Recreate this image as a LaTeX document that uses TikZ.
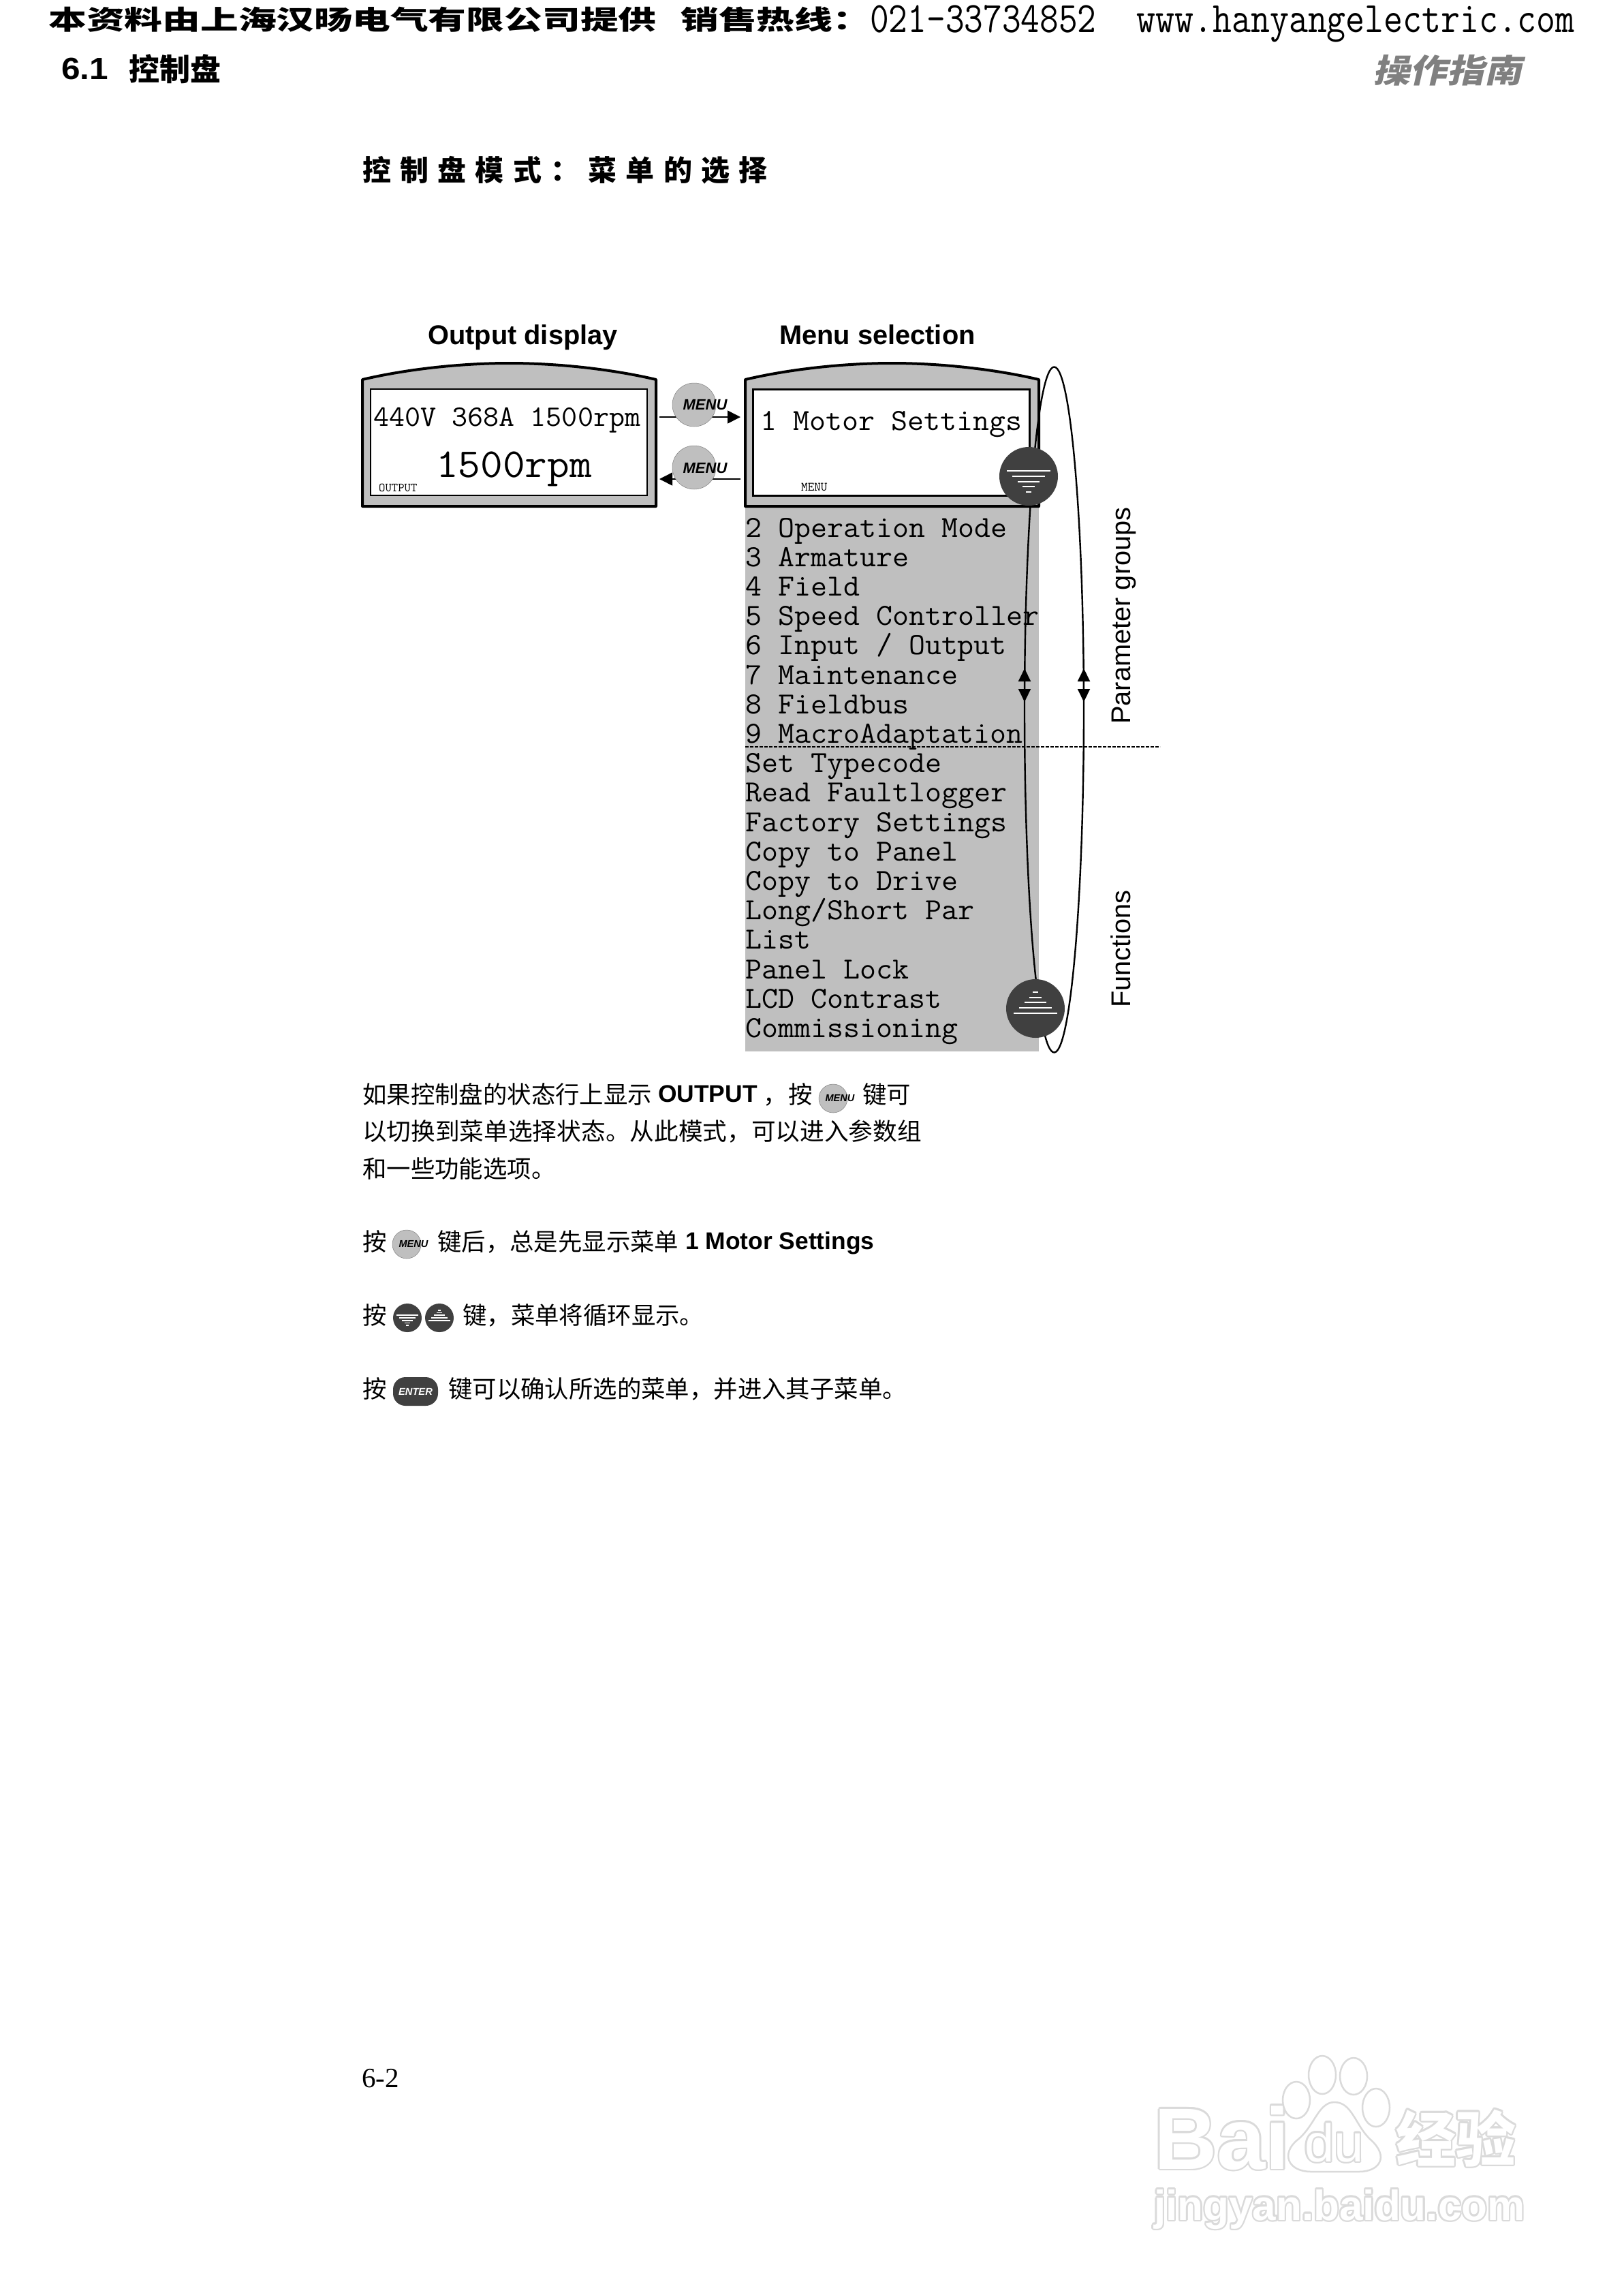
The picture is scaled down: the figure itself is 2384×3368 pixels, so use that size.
\documentclass[tikz,border=0pt]{standalone}
\usepackage{fontspec}
\setsansfont{Liberation Sans}
\setmainfont{Liberation Serif}
\setmonofont{Latin Modern Mono}
\newfontfamily\cjk{Noto Sans CJK SC}
\newfontfamily\cjkslant[FakeSlant=0.2]{Noto Sans CJK SC}
\newfontfamily\cjkspaced[LetterSpace=31.5]{Noto Sans CJK SC}
\usetikzlibrary{arrows.meta,shapes.geometric}
\newcommand{\fsz}[1]{\fontsize{#1}{#1}\selectfont}
\newcommand{\qcomma}{\char"FF0C\relax}
\newcommand{\qcolon}{\char"FF1A\relax}
\newcommand{\wmlabel}[3]{%
  \foreach \ang in {0,30,...,330}
    \node[wmtext,text=wmgray,shift={(\ang:2.4)}] at (#1) {#2#3};
  \node[wmtext,text=white] (wm#3) at (#1) {#2#3};}
\definecolor{panelgray}{HTML}{BFBFBF}
\definecolor{keydark}{HTML}{404040}
\definecolor{wmgray}{HTML}{DADADA}
\tikzset{
  txt/.style={anchor=base west,inner sep=0pt},
  wmtext/.style={anchor=base west,inner sep=0pt},
  cntxt/.style={txt,font=\cjk\fsz{35.4}},
  lattxt/.style={txt,font=\sffamily\bfseries\fsz{35.4}},
  itemtext/.style={txt,xscale=1.035,font=\ttfamily\fsz{45}},
  sidetext/.style={txt,rotate=90,font=\sffamily\fsz{39.8}},
  titletext/.style={txt,font=\sffamily\bfseries\fsz{39.8}},
  screen/.style={draw,fill=white,line width=2.5pt,inner sep=0pt,minimum width=406pt,minimum height=156pt},
  menukey/.style={circle,draw=gray,fill=panelgray,line width=.5pt,inner sep=0pt,minimum size=64pt},
  menusmall/.style={menukey,minimum size=42pt},
  keylabel/.style={inner sep=0pt,font=\sffamily\bfseries\itshape\fsz{22}},
  keysmall/.style={inner sep=0pt,font=\sffamily\bfseries\itshape\fsz{14.6}},
  darkkey/.style={circle,fill=keydark,inner sep=0pt,minimum size=86pt},
  darksmall/.style={darkkey,minimum size=42pt},
  enterkey/.style={rectangle,rounded corners=18pt,fill=keydark,text=white,inner sep=0pt,
    minimum width=66pt,minimum height=42pt,font=\sffamily\bfseries\itshape\fsz{14.7}},
  flow/.style={-{Triangle[length=19pt,width=19pt]},line width=1.6pt},
  cycletip/.style={{Triangle[length=19pt,width=18pt]}-{Triangle[length=19pt,width=18pt]},line width=2pt},
  pics/dispanel/.style={code={
    \draw[fill=panelgray,line width=4pt,line join=round] (0,24) .. controls (68,8) and (148,0) .. (215.5,0)
      .. controls (283,0) and (363,8) .. (431,24) -- (431,210) -- (0,210) -- cycle;
  }},
  pics/keylines/.style={code={
    \foreach \dy/\hw in {-8/32,0/24,8/16,15/9,23/4}
      \draw[white,line width=1.6pt] (-\hw,\dy) -- (\hw,\dy);
  }}
}
\begin{document}
\begin{tikzpicture}[x=1pt,y=-1pt]
\useasboundingbox (0,0) rectangle (2384,3368);
% page head
\node[txt,xscale=1.43,font=\cjk\bfseries\fsz{39}] (hdrsource) at (71,43) {本资料由上海汉旸电气有限公司提供};
\node[txt,xscale=1.43,font=\cjk\bfseries\fsz{39}] (hdrsale) at (999,43) {销售热线\qcolon};
\node[txt,xscale=1.015,yscale=1.2,font=\ttfamily\fsz{53}] (hdrtel) at (1277,47) {021-33734852};
\node[txt,xscale=1.025,yscale=1.2,font=\ttfamily\fsz{53}] (hdrweb) at (1668,47) {www.hanyangelectric.com};
\node[txt,xscale=1.1,font=\sffamily\bfseries\fsz{45}] (secnum) at (90,116) {6.1};
\node[txt,font=\cjk\bfseries\fsz{45}] (sectitle) at (189,118) {控制盘};
\node[txt,xscale=1.14,text=gray,font=\cjkslant\bfseries\fsz{48}] (chapter) at (2015,121) {操作指南};
\node[txt,font=\cjkspaced\bfseries\fsz{42}] (heading) at (532,265) {控制盘模式\qcolon 菜单的选择};
% panels
\node[titletext] (titleout) at (628,505) {Output display};
\node[titletext] (titlemenu) at (1144,505) {Menu selection};
\fill[panelgray] (1094,742) rectangle (1525,1543);
\pic at (532,533) {dispanel};
\pic at (1094,533) {dispanel};
\node[screen] (outscr) at (747,649) {};
\node[screen] (menuscr) at (1308.5,649.5) {};
\node[txt,xscale=1.025,font=\ttfamily\fsz{43.7}] (outline) at (548,625) {440V 368A 1500rpm};
\node[txt,xscale=1.05,font=\ttfamily\fsz{60.4}] (outspeed) at (640,700) {1500rpm};
\node[txt,font=\ttfamily\fsz{18.2}] (outstat) at (556,721) {OUTPUT};
\node[itemtext] (firstitem) at (1116,631) {1 Motor Settings};
\node[txt,font=\ttfamily\fsz{18.6}] (menustat) at (1176,720) {MENU};
\foreach \lbl [count=\i from 0] in {2 Operation Mode,3 Armature,4 Field,5 Speed Controller,
    6 Input / Output,7 Maintenance,8 Fieldbus,9 MacroAdaptation,Set Typecode,Read Faultlogger,
    Factory Settings,Copy to Panel,Copy to Drive,Long/Short Par,List,Panel Lock,LCD Contrast,Commissioning}
  \node[itemtext] (item\i) at (1094,{788+43.2*\i}) {\lbl};
% divider and menu cycle
\coordinate (divl) at (1094,1096);
\coordinate (divr) at (1703,1096);
\draw[line width=1.5pt,dash pattern=on 5pt off 2pt] (divl) -- (divr);
\draw[line width=2.4pt] (1547.5,1041.5) ellipse [x radius=43.5,y radius=503];
\coordinate (cycltop) at (1504,981);
\coordinate (cyclbot) at (1504,1030);
\coordinate (cycrtop) at (1591,981);
\coordinate (cycrbot) at (1591,1030);
\draw[cycletip] (cycltop) -- (cyclbot);
\draw[cycletip] (cycrtop) -- (cycrbot);
\node[darkkey] (keydown) at (1510,699) {};
\pic at (keydown) {keylines};
\node[darkkey] (keyup) at (1520,1480) {};
\pic[yscale=-1,shift={(0,1)}] at (keyup) {keylines};
\node[sidetext] (sidegroups) at (1659,1063) {Parameter groups};
\node[sidetext] (sidefuncs) at (1659,1479) {Functions};
% menu key between the displays
\coordinate (fwdstart) at (968,612);
\coordinate (fwdend) at (1087,612);
\coordinate (backstart) at (1087,703);
\coordinate (backend) at (968,703);
\draw[flow] (fwdstart) -- (fwdend);
\draw[flow] (backstart) -- (backend);
\node[menukey] (keyfwd) at (1019,594) {};
\node[menukey] (keyback) at (1019,686) {};
\node[keylabel] (lblfwd) at (1035,594) {MENU};
\node[keylabel] (lblback) at (1035,687) {MENU};
% body text
\node[cntxt] (lineone) at (532,1619) {如果控制盘的状态行上显示};
\node[lattxt] (wordout) at (966,1617) {OUTPUT};
\node[cntxt] (lineonea) at (1120,1619) {\qcomma};
\node[cntxt] (lineoneb) at (1157,1619) {按};
\node[menusmall] (smallone) at (1223,1612) {};
\node[keysmall] (smallonel) at (1233,1612) {MENU};
\node[cntxt] (lineonec) at (1266,1619) {键可};
\node[cntxt,xscale=1.008] (linetwo) at (532,1673) {以切换到菜单选择状态。从此模式\qcomma 可以进入参数组};
\node[cntxt] (linethree) at (532,1728) {和一些功能选项。};
\node[cntxt] (linefour) at (532,1835) {按};
\node[menusmall] (smalltwo) at (597,1826) {};
\node[keysmall] (smalltwol) at (607,1826) {MENU};
\node[cntxt] (linefoura) at (642,1835) {键后\qcomma 总是先显示菜单};
\node[lattxt] (wordmotor) at (1006,1833) {1 Motor Settings};
\node[cntxt] (linefive) at (532,1943) {按};
\node[darksmall] (smalldown) at (598,1934) {};
\pic[scale=.49] at (smalldown) {keylines};
\node[darksmall] (smallup) at (645,1934) {};
\pic[scale=.49,yscale=-1] at (smallup) {keylines};
\node[cntxt] (linefivea) at (679,1943) {键\qcomma 菜单将循环显示。};
\node[cntxt] (linesix) at (532,2051) {按};
\node[enterkey] (enter) at (610,2042) {ENTER};
\node[cntxt] (linesixa) at (658,2051) {键可以确认所选的菜单\qcomma 并进入其子菜单。};
\node[txt,font=\rmfamily\fsz{41}] (pagenum) at (531,3063) {6-2};
% watermark
\wmlabel{1694,3183}{\sffamily\bfseries\fsz{128}}{Bai}
\foreach \cx/\cy/\ry in {1903/3082/27,1941/3045/28,1987/3047/27,2020/3093/28}
  \draw[wmgray,line width=2.5pt,fill=white] (\cx,\cy) ellipse [x radius=20,y radius=\ry];
\draw[wmgray,line width=2.5pt,fill=white] (1959,3085) .. controls (1985,3085) and (1990,3120) .. (2012,3140)
  .. controls (2040,3165) and (2025,3187) .. (1995,3187) -- (1925,3187)
  .. controls (1890,3187) and (1880,3160) .. (1905,3140) .. controls (1930,3120) and (1935,3085) .. (1959,3085) -- cycle;
\wmlabel{1915,3172}{\sffamily\fsz{78}}{du}
\wmlabel{2049,3172}{\cjk\bfseries\fsz{88}}{经验}
\wmlabel{1694,3258}{\sffamily\bfseries\fsz{62}}{jingyan.baidu.com}
\end{tikzpicture}
\end{document}
